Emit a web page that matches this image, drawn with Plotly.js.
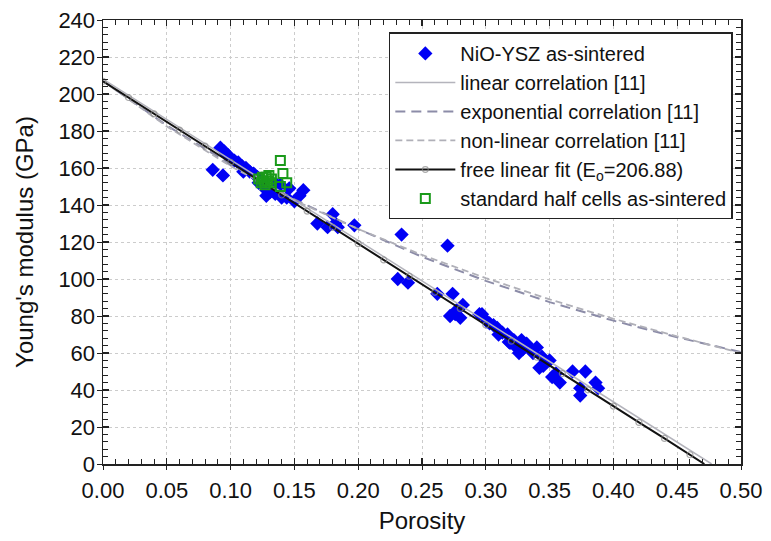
<!DOCTYPE html>
<html>
<head>
<meta charset="utf-8">
<script src="https://cdn.plot.ly/plotly-3.0.1.min.js"></script>
<style>html,body{margin:0;padding:0;background:#fff;}#chart{width:771px;height:541px;}</style>
</head>
<body>
<div id="chart"></div>
<script>
// NiO-YSZ as-sintered (blue diamonds)
const nioPorosity = [0.086,0.094,0.092,0.095,0.098,0.100,0.103,0.106,0.109,0.112,0.115,0.118,0.121,0.124,0.126,0.128,0.128,0.131,0.133,0.136,0.139,0.140,0.144,0.146,0.150,0.154,0.157,0.135,0.122,0.110,
  0.168,0.176,0.180,0.182,0.184,0.197,0.234,0.231,0.239,0.270,
  0.262,0.274,0.282,0.272,0.280,0.277,0.276,0.295,0.297,0.301,0.303,0.306,0.309,0.313,0.317,0.319,0.322,0.324,0.328,0.329,0.332,0.335,0.337,0.340,0.342,0.344,0.347,0.350,0.352,0.355,0.358,0.368,0.378,0.374,0.374,0.386,0.388,0.326,0.318,0.310,0.345];
const nioModulus = [159,156,171,169,167,165,164,163,161,160,158,157,155,153,151,148,145,147,149,151,151,144,144,149,142,145,148,146,152,158,
  130,128,135,130,128,129,124,100,98,118,
  92,92,86,80,79,83,81,81,81,77,76,75,73.5,71,70,65.5,67,63,67,62,65,62,60,63,52,58,55,56,47,49,44,50,50,41,37,44,41,60,66,70,53];

// standard half cells as-sintered (green open squares)
const cellPorosity = [0.122,0.124,0.125,0.126,0.127,0.128,0.129,0.130,0.131,0.132,0.139,0.141,0.144,0.139];
const cellModulus  = [154,152,155,153,151,155,153,156,152,154,164,157,152,150];

// correlation curves [11]
const corrPorosity   = [0,0.05,0.10,0.15,0.20,0.25,0.30,0.35,0.40,0.45,0.50];
const expModulus     = [207,183,162,143,127,112,99,87.5,77.5,68.5,60.5];
const nonlinModulus  = [207,182.5,161,142.5,127,113,100.5,89,78.5,69,60];
const linPorosity    = [0,0.10,0.20,0.30,0.40,0.477];
const linModulus     = [208,164.4,120.8,77.2,33.6,0];

// free linear fit (Eo = 206.88)
const fitPorosity = [0,0.02,0.04,0.06,0.08,0.10,0.12,0.14,0.16,0.18,0.20,0.22,0.24,0.26,0.28,0.30,0.32,0.34,0.36,0.38,0.40,0.42,0.44,0.46,0.4713];
const fitModulus  = [206.9,198.1,189.3,180.5,171.8,163.0,154.2,145.4,136.7,127.9,119.1,110.3,101.5,92.8,84.0,75.2,66.4,57.7,48.9,40.1,31.3,22.5,13.8,5.0,0];

const xTickVals = [0,0.05,0.10,0.15,0.20,0.25,0.30,0.35,0.40,0.45,0.50];
const xTickText = ['0.00','0.05','0.10','0.15','0.20','0.25','0.30','0.35','0.40','0.45','0.50'];

const fitSizes = fitPorosity.map((p,i)=> i === fitPorosity.length-1 ? 0 : 6);

const traces = [
  {x: nioPorosity, y: nioModulus, type:'scatter', mode:'markers', name:'NiO-YSZ as-sintered',
   marker:{symbol:'diamond', size:11, color:'#0000f5'}},
  {x: linPorosity, y: linModulus, type:'scatter', mode:'lines', name:'linear correlation [11]',
   line:{color:'#b4b4bc', width:1.5}},
  {x: corrPorosity, y: expModulus, type:'scatter', mode:'lines', name:'exponential correlation [11]',
   line:{color:'#8c8ca8', width:2, dash:'10px,6px'}},
  {x: corrPorosity, y: nonlinModulus, type:'scatter', mode:'lines', name:'non-linear correlation [11]',
   line:{color:'#b0b0b8', width:1.8, dash:'7px,4px'}},
  {x: fitPorosity, y: fitModulus, type:'scatter', mode:'lines+markers', name:'free linear fit (E<sub>o</sub>=206.88)',
   line:{color:'#111', width:2},
   marker:{symbol:'circle-open', size:fitSizes, color:'#888', line:{width:1.2, color:'#888'}}},
  {x: cellPorosity, y: cellModulus, type:'scatter', mode:'markers', name:'standard half cells as-sintered',
   marker:{symbol:'square-open', size:9, color:'#1a9a1a', line:{width:2, color:'#1a9a1a'}}},
  {x: [], y: [], xaxis:'x2', yaxis:'y2', type:'scatter', mode:'markers', showlegend:false, hoverinfo:'skip'}
];

const tickFont = {family:'Arial, "Liberation Sans", sans-serif', size:22, color:'#111'};
const layout = {
  width:771, height:541,
  margin:{l:103, r:30, t:20, b:77},
  paper_bgcolor:'#fff', plot_bgcolor:'#fff',
  font:{family:'Arial, "Liberation Sans", sans-serif', color:'#111'},
  showlegend:true,
  legend:{x:0.448, y:0.972, xanchor:'left', yanchor:'top', bgcolor:'#fff', bordercolor:'#222', borderwidth:1.5,
    font:{size:20, color:'#111'}, itemwidth:60, tracegroupgap:0},
  xaxis:{range:[0,0.5], tickvals:xTickVals, ticktext:xTickText, tickfont:tickFont, ticklabelstandoff:6,
    title:{text:'Porosity', font:{size:24, color:'#111'}, standoff:10},
    showline:true, linecolor:'#222', linewidth:1.5, mirror:'allticks',
    ticks:'inside', ticklen:6, tickcolor:'#222', tickwidth:1.2,
    minor:{dtick:0.01, ticks:'inside', ticklen:5, tickcolor:'#222', tickwidth:1, showgrid:false},
    showgrid:true, gridcolor:'#cccccc', griddash:'dot', gridwidth:1, zeroline:false, fixedrange:true},
  yaxis:{range:[0,240], dtick:20, tickfont:tickFont, ticklabelstandoff:2,
    title:{text:"Young's modulus (GPa)", font:{size:24, color:'#111'}, standoff:18},
    showline:true, linecolor:'#222', linewidth:1.5, mirror:'allticks',
    ticks:'inside', ticklen:6, tickcolor:'#222', tickwidth:1.2,
    minor:{dtick:4, ticks:'inside', ticklen:5, tickcolor:'#222', tickwidth:1, showgrid:false},
    showgrid:true, gridcolor:'#cccccc', griddash:'dot', gridwidth:1, zeroline:false, fixedrange:true},
  xaxis2:{range:[0,0.5], overlaying:'x', anchor:'y2', side:'bottom', tickvals:xTickVals,
    ticks:'outside', ticklen:5, tickcolor:'#222', showticklabels:false, showgrid:false, zeroline:false, showline:false},
  yaxis2:{range:[0,240], overlaying:'y', anchor:'x2', side:'left', dtick:20,
    ticks:'outside', ticklen:5, tickcolor:'#222', showticklabels:false, showgrid:false, zeroline:false, showline:false}
};

Plotly.newPlot('chart', traces, layout, {displayModeBar:false, staticPlot:true});
</script>
</body>
</html>
